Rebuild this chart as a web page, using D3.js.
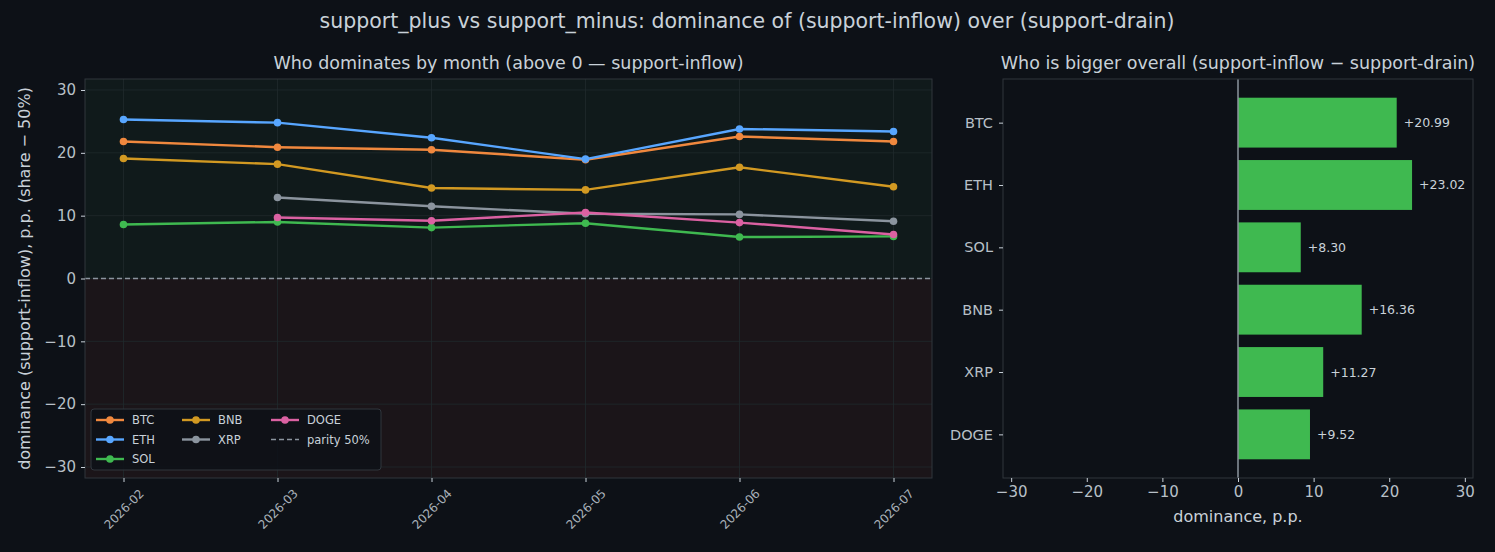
<!DOCTYPE html>
<html>
<head>
<meta charset="utf-8">
<script src="https://cdn.jsdelivr.net/npm/d3@7"></script>
<style>
  body { margin: 0; background: #0d1117; }
  svg text { font-family: "DejaVu Sans", sans-serif; }
</style>
</head>
<body>
<div id="viz-container"></div>
<script>
// data
let months = ["2026-02", "2026-03", "2026-04", "2026-05", "2026-06", "2026-07"];
let coins = ["BTC", "ETH", "SOL", "BNB", "XRP", "DOGE"];
let btcVals = [21.8, 20.9, 20.5, 18.9, 22.6, 21.8];
let ethVals = [25.3, 24.8, 22.4, 19.0, 23.8, 23.4];
let solVals = [8.6, 9.0, 8.1, 8.8, 6.6, 6.7];
let bnbVals = [19.1, 18.2, 14.4, 14.1, 17.7, 14.6];
let xrpVals = [null, 12.9, 11.5, 10.3, 10.2, 9.1];
let dogeVals = [null, 9.7, 9.2, 10.5, 8.9, 7.0];
let overall = [20.99, 23.02, 8.30, 16.36, 11.27, 9.52];
let leftTicks = [-30, -20, -10, 0, 10, 20, 30];
let rightTicks = [-30, -20, -10, 0, 10, 20, 30];

let seriesVals = [btcVals, ethVals, solVals, bnbVals, xrpVals, dogeVals];
let coinColor = {BTC: "#f0883e", ETH: "#58a6ff", SOL: "#3fb950", BNB: "#d29922", XRP: "#8b949e", DOGE: "#db61a2"};

let textCol = "#c9d1d9";
let tickCol = "#b8c0c8";
let gridCol = "#1f2a2c";
let borderCol = "#30363d";

let minusFmt = d => d3.format("d")(d).replace("-", "\u2212");

let viz = d3.select("#viz-container")
  .append("svg")
  .attr("width", 1495)
  .attr("height", 552)
  .style("background", "#0d1117");

viz.append("text")
  .attr("x", 747).attr("y", 28)
  .attr("text-anchor", "middle")
  .attr("fill", textCol)
  .style("font-size", "20.5px")
  .text("support_plus vs support_minus: dominance of (support-inflow) over (support-drain)");

// ---------- left chart ----------
let L = {x0: 85, x1: 932, y0: 79, y1: 478};
let span = L.x1 - L.x0;
let inner = span / 1.1; // 5% margin each side like matplotlib
let x = d3.scalePoint().domain(months).range([L.x0 + inner * 0.05, L.x1 - inner * 0.05]);
let y = d3.scaleLinear().domain([-31.75, 31.75]).range([L.y1, L.y0]);

let left = viz.append("g");

left.append("rect")
  .attr("x", L.x0).attr("y", L.y0)
  .attr("width", span).attr("height", y(0) - L.y0)
  .attr("fill", "#101a1b");
left.append("rect")
  .attr("x", L.x0).attr("y", y(0))
  .attr("width", span).attr("height", L.y1 - y(0))
  .attr("fill", "#1b1519");

// grid
left.selectAll(".hgrid").data(leftTicks).enter().append("line")
  .attr("x1", L.x0).attr("x2", L.x1)
  .attr("y1", d => y(d)).attr("y2", d => y(d))
  .attr("stroke", gridCol).attr("stroke-width", 0.8);
left.selectAll(".vgrid").data(months).enter().append("line")
  .attr("x1", d => x(d)).attr("x2", d => x(d))
  .attr("y1", L.y0).attr("y2", L.y1)
  .attr("stroke", gridCol).attr("stroke-width", 0.8);

// parity line
left.append("line")
  .attr("x1", L.x0).attr("x2", L.x1)
  .attr("y1", y(0)).attr("y2", y(0))
  .attr("stroke", "#8b949e").attr("stroke-width", 1.5)
  .attr("stroke-dasharray", "5,3");

let line = d3.line()
  .defined(d => d.v != null)
  .x(d => x(d.m))
  .y(d => y(d.v));

coins.forEach(function(c, i) {
  let pts = months.map((m, j) => ({m: m, v: seriesVals[i][j]}));
  left.append("path")
    .datum(pts)
    .attr("d", line)
    .attr("fill", "none")
    .attr("stroke", coinColor[c])
    .attr("stroke-width", 2.4);
  left.selectAll(".pt" + c).data(pts.filter(d => d.v != null)).enter().append("circle")
    .attr("cx", d => x(d.m))
    .attr("cy", d => y(d.v))
    .attr("r", 3.8)
    .attr("fill", coinColor[c]);
});

left.append("rect")
  .attr("x", L.x0).attr("y", L.y0)
  .attr("width", span).attr("height", L.y1 - L.y0)
  .attr("fill", "none").attr("stroke", borderCol);

// axes
let yAxisL = left.append("g")
  .attr("transform", "translate(" + L.x0 + ",0)")
  .call(d3.axisLeft(y).tickValues(leftTicks).tickSize(4).tickPadding(5).tickFormat(minusFmt));
yAxisL.select(".domain").remove();
yAxisL.selectAll("line").attr("stroke", textCol);
yAxisL.selectAll("text").attr("fill", tickCol).style("font-size", "15px");

let xAxisL = left.append("g")
  .attr("transform", "translate(0," + L.y1 + ")")
  .call(d3.axisBottom(x).tickSize(4).tickPadding(4));
xAxisL.select(".domain").remove();
xAxisL.selectAll("line").attr("stroke", textCol);
xAxisL.selectAll("text")
  .attr("fill", "#aab2bb")
  .style("font-size", "12px")
  .attr("text-anchor", "middle")
  .attr("dy", "0.35em")
  .attr("y", 0).attr("x", 0)
  .attr("transform", "translate(0,31) rotate(-45)");

left.append("text")
  .attr("x", (L.x0 + L.x1) / 2).attr("y", 69)
  .attr("text-anchor", "middle")
  .attr("fill", textCol)
  .style("font-size", "17.5px")
  .text("Who dominates by month (above 0 \u2014 support-inflow)");

left.append("text")
  .attr("transform", "translate(30," + y(0) + ") rotate(-90)")
  .attr("text-anchor", "middle")
  .attr("fill", textCol)
  .style("font-size", "16px")
  .text("dominance (support-inflow), p.p. (share \u2212 50%)");

// legend
let lg = left.append("g").attr("transform", "translate(91,409)");
lg.append("rect")
  .attr("width", 290).attr("height", 61).attr("rx", 3)
  .attr("fill", "#0d1117").attr("fill-opacity", 0.85)
  .attr("stroke", borderCol);
let legendItems = [
  {name: "BTC", col: 0, row: 0}, {name: "ETH", col: 0, row: 1}, {name: "SOL", col: 0, row: 2},
  {name: "BNB", col: 1, row: 0}, {name: "XRP", col: 1, row: 1},
  {name: "DOGE", col: 2, row: 0}, {name: "parity 50%", col: 2, row: 1, dash: true}
];
let colX = [5, 91, 180];
legendItems.forEach(function(it) {
  let gx = colX[it.col], gy = 11 + it.row * 19.5;
  let col = it.dash ? "#8b949e" : coinColor[it.name];
  lg.append("line")
    .attr("x1", gx).attr("x2", gx + 28)
    .attr("y1", gy).attr("y2", gy)
    .attr("stroke", col).attr("stroke-width", it.dash ? 1.5 : 2.4)
    .attr("stroke-dasharray", it.dash ? "5,3" : null);
  if (!it.dash) {
    lg.append("circle").attr("cx", gx + 14).attr("cy", gy).attr("r", 3.8).attr("fill", col);
  }
  lg.append("text")
    .attr("x", gx + 36).attr("y", gy + 4)
    .attr("fill", textCol)
    .style("font-size", "11.5px")
    .text(it.name);
});

// ---------- right chart ----------
let R = {x0: 1003, x1: 1473, y0: 79, y1: 478};
let xr = d3.scaleLinear().domain([-31.08, 31.08]).range([R.x0, R.x1]);
let yr = d3.scaleLinear().domain([-0.7, coins.length - 0.3]).range([R.y0, R.y1]);

let right = viz.append("g");
right.append("rect")
  .attr("x", R.x0).attr("y", R.y0)
  .attr("width", R.x1 - R.x0).attr("height", R.y1 - R.y0)
  .attr("fill", "#0d1117");

right.selectAll(".bar").data(overall).enter().append("rect")
  .attr("x", d => xr(Math.min(0, d)))
  .attr("y", (d, i) => yr(i - 0.4))
  .attr("width", d => Math.abs(xr(d) - xr(0)))
  .attr("height", yr(0.4) - yr(-0.4))
  .attr("fill", d => d >= 0 ? "#3fb950" : "#f85149");

right.selectAll(".lbl").data(overall).enter().append("text")
  .attr("x", d => xr(d) + 7)
  .attr("y", (d, i) => yr(i) + 4.5)
  .attr("fill", textCol)
  .style("font-size", "12.5px")
  .text(d => (d >= 0 ? "+" : "") + d3.format(".2f")(d));

right.append("line")
  .attr("x1", xr(0)).attr("x2", xr(0))
  .attr("y1", R.y0).attr("y2", R.y1)
  .attr("stroke", "#8b949e").attr("stroke-width", 1.5);

right.append("rect")
  .attr("x", R.x0).attr("y", R.y0)
  .attr("width", R.x1 - R.x0).attr("height", R.y1 - R.y0)
  .attr("fill", "none").attr("stroke", borderCol);

let yAxisR = right.append("g")
  .attr("transform", "translate(" + R.x0 + ",0)")
  .call(d3.axisLeft(yr).tickValues(d3.range(coins.length)).tickSize(4).tickPadding(6).tickFormat(i => coins[i]));
yAxisR.select(".domain").remove();
yAxisR.selectAll("line").attr("stroke", textCol);
yAxisR.selectAll("text").attr("fill", tickCol).style("font-size", "14.5px");

let xAxisR = right.append("g")
  .attr("transform", "translate(0," + R.y1 + ")")
  .call(d3.axisBottom(xr).tickValues(rightTicks).tickSize(4).tickPadding(4).tickFormat(minusFmt));
xAxisR.select(".domain").remove();
xAxisR.selectAll("line").attr("stroke", textCol);
xAxisR.selectAll("text").attr("fill", tickCol).style("font-size", "15px");

right.append("text")
  .attr("x", (R.x0 + R.x1) / 2).attr("y", 522)
  .attr("text-anchor", "middle")
  .attr("fill", textCol)
  .style("font-size", "16px")
  .text("dominance, p.p.");

right.append("text")
  .attr("x", (R.x0 + R.x1) / 2).attr("y", 69)
  .attr("text-anchor", "middle")
  .attr("fill", textCol)
  .style("font-size", "17.5px")
  .text("Who is bigger overall (support-inflow \u2212 support-drain)");
</script>
</body>
</html>
